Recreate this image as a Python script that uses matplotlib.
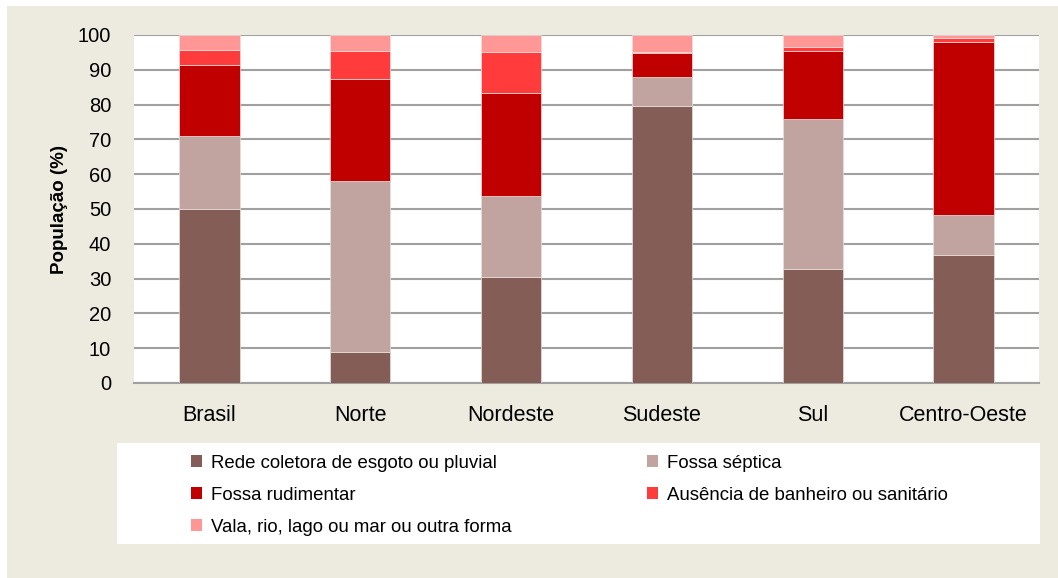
import numpy as np
import matplotlib.pyplot as plt
import matplotlib.patches as mpatches

plt.rcParams['font.family'] = ['Liberation Sans', 'DejaVu Sans']

# Data (% of population by sewage destination)
regions = ['Brasil', 'Norte', 'Nordeste', 'Sudeste', 'Sul', 'Centro-Oeste']
rede = [50.1, 9.0, 30.5, 79.6, 32.8, 36.8]
septica = [21.0, 49.1, 23.2, 8.4, 43.1, 11.4]
rudimentar = [20.3, 29.2, 29.6, 6.8, 19.6, 49.9]
ausencia = [4.4, 8.2, 11.8, 0.4, 1.1, 0.9]
vala = [4.2, 4.5, 4.9, 4.8, 3.4, 1.0]

series = [rede, septica, rudimentar, ausencia, vala]
labels = ['Rede coletora de esgoto ou pluvial', 'Fossa séptica',
          'Fossa rudimentar', 'Ausência de banheiro ou sanitário',
          'Vala, rio, lago ou mar ou outra forma']
colors = ['#845D56', '#C1A49F', '#C00000', '#FF3B3B', '#FF9797']

bg = '#EDEAE0'
fig = plt.figure(figsize=(10.58, 5.78), dpi=100)
fig.patch.set_facecolor(bg)
# thin white margin at top and left
fig.patches.append(mpatches.Rectangle((0, 1 - 6 / 578), 1, 6 / 578,
                                      transform=fig.transFigure,
                                      facecolor='white', edgecolor='none'))
fig.patches.append(mpatches.Rectangle((0, 0), 7 / 1058, 1,
                                      transform=fig.transFigure,
                                      facecolor='white', edgecolor='none'))
# legend box
fig.patches.append(mpatches.Rectangle((117 / 1058, 1 - 544 / 578), 923 / 1058, 101 / 578,
                                      transform=fig.transFigure,
                                      facecolor='white', edgecolor='none'))

ax = fig.add_axes([134 / 1058, 1 - 383 / 578, 905 / 1058, 348 / 578])
ax.set_facecolor('white')

x = np.arange(len(regions))
bottom = np.zeros(len(regions))
for vals, c in zip(series, colors):
    ax.bar(x, vals, 0.4, bottom=bottom, color=c, edgecolor='#E8E0DE',
           linewidth=0.5, zorder=3)
    bottom += np.array(vals)

ax.set_xlim(-0.5, len(regions) - 0.5)
ax.set_ylim(0, 100)
ax.set_yticks(range(0, 101, 10))
ax.yaxis.grid(True, color='#A0A0A0', linewidth=1.5, zorder=1)
ax.set_axisbelow(True)
for s in ['top', 'right', 'left']:
    ax.spines[s].set_visible(False)
ax.spines['bottom'].set_color('#A0A0A0')
ax.spines['bottom'].set_linewidth(1.5)
ax.tick_params(axis='both', length=0, labelsize=14.5)
ax.tick_params(axis='y', pad=16.5)
ax.tick_params(axis='x', pad=16, labelsize=15.5)
ax.set_xticks(x)
ax.set_xticklabels(regions)
ax.set_ylabel('População (%)', fontsize=13.5, fontweight='bold', labelpad=7)

# legend filled row-wise like the original
order = [0, 2, 4, 1, 3]
handles = [mpatches.Patch(facecolor=colors[i], edgecolor='none') for i in order]
fig.legend(handles, [labels[i] for i in order], loc='upper left', ncol=2,
           bbox_to_anchor=(174 / 1058, 1 - 438 / 578),
           frameon=False, fontsize=13.4, handlelength=0.6, handleheight=0.6,
           handletextpad=0.5, columnspacing=7.25, labelspacing=0.8)

fig.savefig('out.png', dpi=100, facecolor=fig.get_facecolor())
